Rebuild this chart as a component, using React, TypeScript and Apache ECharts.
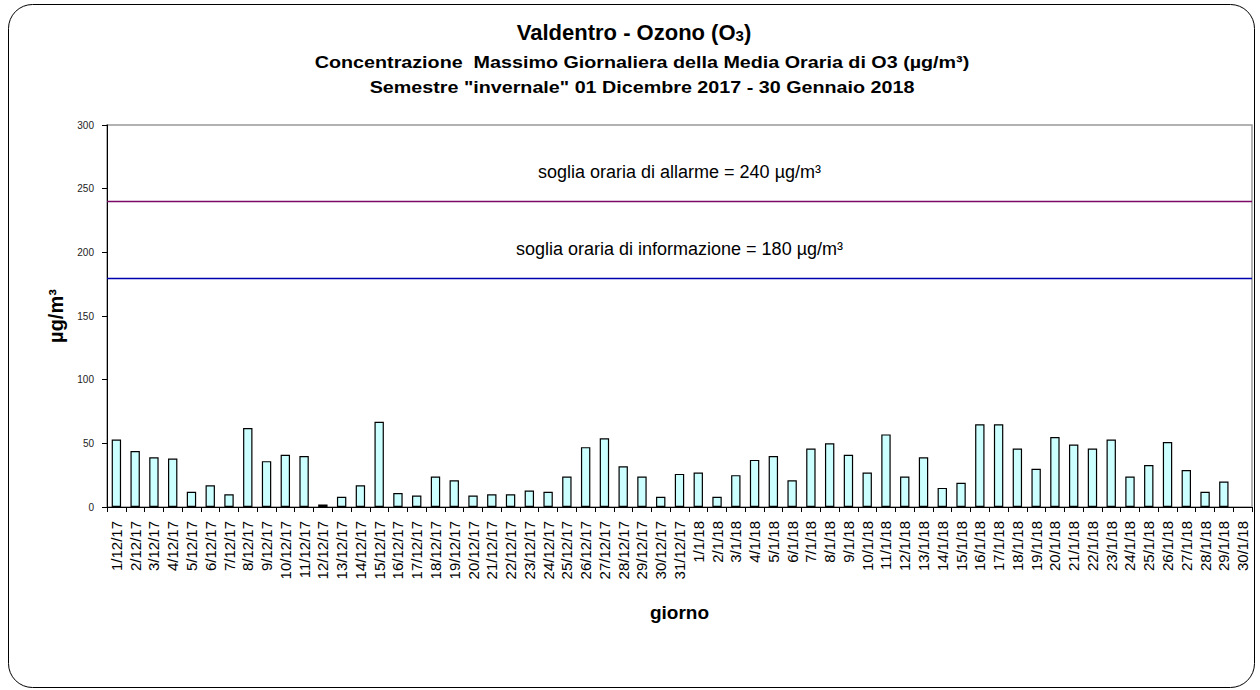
import React, { useEffect, useRef } from "react";
import * as echarts from "echarts";

const categories = [
  "1/12/17","2/12/17","3/12/17","4/12/17","5/12/17","6/12/17","7/12/17","8/12/17","9/12/17","10/12/17",
  "11/12/17","12/12/17","13/12/17","14/12/17","15/12/17","16/12/17","17/12/17","18/12/17","19/12/17","20/12/17",
  "21/12/17","22/12/17","23/12/17","24/12/17","25/12/17","26/12/17","27/12/17","28/12/17","29/12/17","30/12/17",
  "31/12/17","1/1/18","2/1/18","3/1/18","4/1/18","5/1/18","6/1/18","7/1/18","8/1/18","9/1/18",
  "10/1/18","11/1/18","12/1/18","13/1/18","14/1/18","15/1/18","16/1/18","17/1/18","18/1/18","19/1/18",
  "20/1/18","21/1/18","22/1/18","23/1/18","24/1/18","25/1/18","26/1/18","27/1/18","28/1/18","29/1/18",
  "30/1/18",
];

const o3Values: (number | null)[] = [
  53, 44, 39, 38, 12, 17, 10, 62, 36, 41,
  40, 2, 8, 17, 67, 11, 9, 24, 21, 9,
  10, 10, 13, 12, 24, 47, 54, 32, 24, 8,
  26, 27, 8, 25, 37, 40, 21, 46, 50, 41,
  27, 57, 24, 39, 15, 19, 65, 65, 46, 30,
  55, 49, 46, 53, 24, 33, 51, 29, 12, 20,
  null,
];

const thresholdAlarm = 240;
const thresholdInfo = 180;
const yTicks = { min: 0, max: 300, interval: 50 };

export default function App() {
  const ref = useRef<HTMLDivElement>(null);
  useEffect(() => {
    const chart = echarts.init(ref.current!, null, { renderer: "svg" });
    const font = "Arial, 'Liberation Sans', sans-serif";
    chart.setOption({
      animation: false,
      backgroundColor: "#ffffff",
      textStyle: { fontFamily: font },
      graphic: [
        {
          type: "rect",
          shape: { x: 8.5, y: 4.5, width: 1246, height: 683, r: 24 },
          style: { fill: "none", stroke: "#000", lineWidth: 1 },
          silent: true,
        },
        {
          type: "text",
          x: 634, y: 32,
          style: {
            text: "{t|Valdentro - Ozono (O}{s|3}{t|)}",
            align: "center", verticalAlign: "middle",
            rich: {
              t: { fontSize: 22, fontWeight: "bold", fontFamily: font, fill: "#000" },
              s: { fontSize: 15, fontWeight: "bold", fontFamily: font, fill: "#000", padding: [7, 0, 0, 0] },
            },
          },
        },
        {
          type: "text",
          x: 642, y: 62,
          scaleX: 1.16,
          style: {
            text: "Concentrazione  Massimo Giornaliera della Media Oraria di O3 (µg/m³)",
            align: "center", verticalAlign: "middle",
            fontSize: 17, fontWeight: "bold", fontFamily: font, fill: "#000",
          },
        },
        {
          type: "text",
          x: 642, y: 87,
          scaleX: 1.16,
          style: {
            text: 'Semestre "invernale" 01 Dicembre 2017 - 30 Gennaio 2018',
            align: "center", verticalAlign: "middle",
            fontSize: 17, fontWeight: "bold", fontFamily: font, fill: "#000",
          },
        },
      ],
      grid: {
        left: 107, top: 125, width: 1145, height: 382,
        show: true, borderColor: "#999", borderWidth: 1.5, backgroundColor: "transparent",
      },
      xAxis: {
        type: "category",
        data: categories,
        boundaryGap: true,
        name: "giorno",
        nameLocation: "middle",
        nameGap: 96,
        nameTextStyle: { fontSize: 19, fontWeight: "bold", color: "#000", fontFamily: font },
        axisLine: { lineStyle: { color: "#000", width: 1 } },
        axisTick: { show: true, alignWithLabel: false, length: 5, lineStyle: { color: "#000" }, interval: 0 },
        axisLabel: { rotate: 90, interval: 0, fontSize: 15, color: "#000", margin: 14, fontFamily: font },
        splitLine: { show: false },
      },
      yAxis: {
        type: "value",
        min: yTicks.min, max: yTicks.max, interval: yTicks.interval,
        name: "µg/m³",
        nameLocation: "middle",
        nameGap: 38,
        nameTextStyle: { fontSize: 20, fontWeight: "bold", color: "#000", fontFamily: font },
        axisLine: { show: true, lineStyle: { color: "#000", width: 1 } },
        axisTick: { show: true, length: 5, lineStyle: { color: "#000" } },
        axisLabel: { fontSize: 10, color: "#222", margin: 13, fontFamily: font },
        splitLine: { show: false },
      },
      series: [
        {
          type: "bar",
          data: o3Values,
          barWidth: "50%",
          itemStyle: { color: "#ccffff", borderColor: "#000", borderWidth: 1.2 },
          markLine: {
            silent: true,
            symbol: "none",
            data: [
              {
                yAxis: thresholdAlarm,
                lineStyle: { color: "#7a0a66", width: 1.3, type: "solid" },
                label: {
                  show: true, position: "insideMiddleTop", distance: 20,
                  formatter: "soglia oraria di allarme = 240 µg/m³",
                  fontSize: 18, color: "#000", fontFamily: font,
                },
              },
              {
                yAxis: thresholdInfo,
                lineStyle: { color: "#0000b0", width: 1.3, type: "solid" },
                label: {
                  show: true, position: "insideMiddleTop", distance: 20,
                  formatter: "soglia oraria di informazione = 180 µg/m³",
                  fontSize: 18, color: "#000", fontFamily: font,
                },
              },
            ],
          },
        },
      ],
    });
    return () => chart.dispose();
  }, []);
  return (
    <div
      ref={ref}
      style={{ position: "absolute", left: 0, top: 0, width: 1260, height: 690 }}
    />
  );
}
